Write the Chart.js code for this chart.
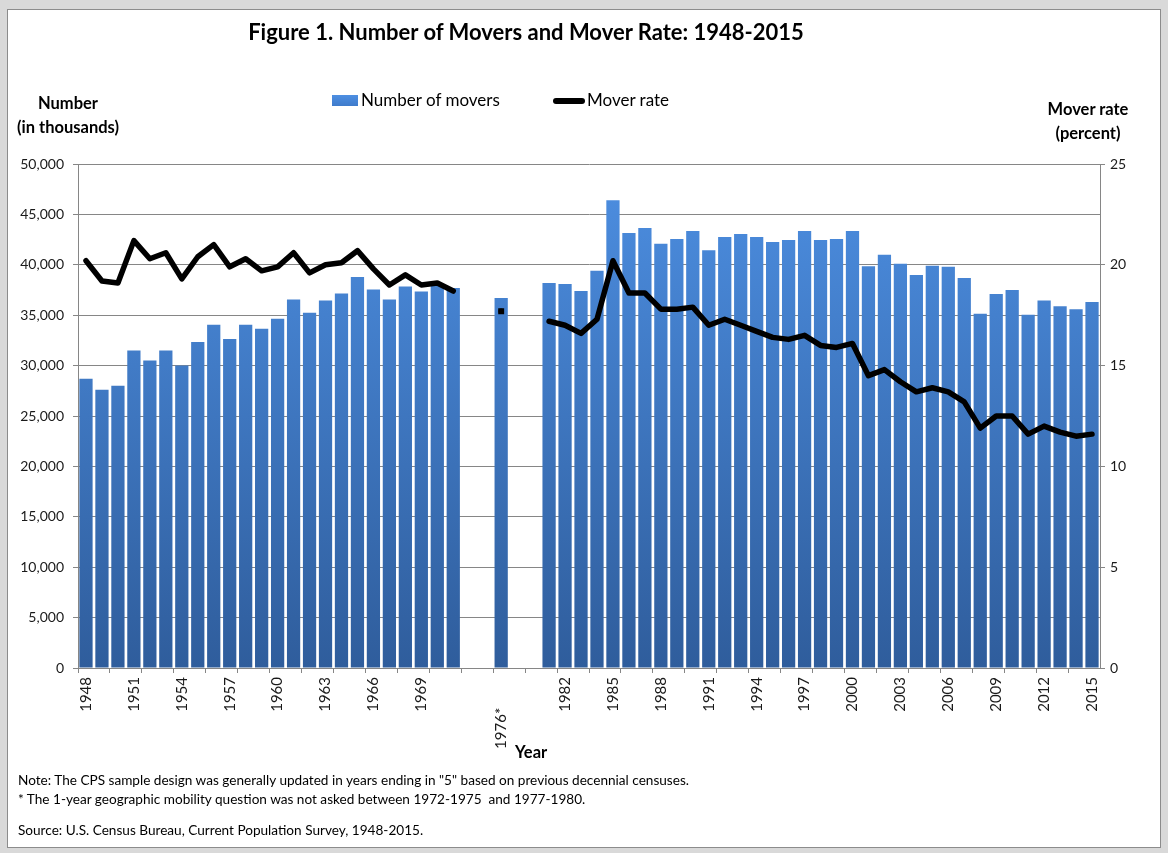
<!DOCTYPE html>
<html>
<head>
<meta charset="utf-8">
<title>Number of Movers and Mover Rate: 1948-2015</title>
<script src="https://cdn.jsdelivr.net/npm/chart.js@4.4.1/dist/chart.umd.min.js"></script>
<style>
  html, body { margin: 0; padding: 0; }
  body { width: 1168px; height: 853px; background: #d9d9d9; position: relative; overflow: hidden; font-family: Lato, "Open Sans", sans-serif; color: #000; }
  #frame { position: absolute; left: 7px; top: 9px; width: 1152px; height: 837px; background: #fff; border: 1px solid #8c8c8c; }
  #chart { position: absolute; left: 0; top: 0; }
  .txt { position: absolute; white-space: nowrap; }
  .bold { font-weight: bold; }
  #title { left: 0; width: 1052px; text-align: center; top: 19px; font-size: 22px; line-height: 26px; }
  .ytitle { font-size: 16.5px; line-height: 24px; text-align: center; width: 200px; }
  .legend-text { font-size: 17px; line-height: 20px; top: 90px; }
  .swatch { position: absolute; }
  .note { left: 18px; font-size: 13.6px; line-height: 18px; }
</style>
</head>
<body>
<div id="frame"></div>
<canvas id="chart" width="1168" height="853"></canvas>

<div id="title" class="txt bold">Figure 1. Number of Movers and Mover Rate: 1948-2015</div>

<div class="swatch" id="sw-bar" style="left:332px; top:95px; width:26px; height:11px;"></div>
<div class="txt legend-text" style="left:361px;">Number of movers</div>
<div class="swatch" id="sw-line" style="left:553px; top:98px; width:32px; height:6px; border-radius:3px;"></div>
<div class="txt legend-text" style="left:587px;">Mover rate</div>

<div class="txt bold ytitle" style="left:-32px; top:91px;">Number<br>(in thousands)</div>
<div class="txt bold ytitle" style="left:988px; top:97px;">Mover rate<br>(percent)</div>

<div class="txt bold" style="left:515px; top:742px; font-size:16.5px; line-height:20px;">Year</div>

<div class="txt note" style="top:771px;">Note: The CPS sample design was generally updated in years ending in "5" based on previous decennial censuses.</div>
<div class="txt note" style="top:790px;">* The 1-year geographic mobility question was not asked between 1972-1975&nbsp; and 1977-1980.</div>
<div class="txt note" style="top:821px;">Source: U.S. Census Bureau, Current Population Survey, 1948-2015.</div>

<script>
// categories (blank slots are the years the question wasn't asked)
const years = [
    '1948', '1949', '1950', '1951', '1952', '1953', '1954', '1955', '1956', '1957', '1958', '1959',
    '1960', '1961', '1962', '1963', '1964', '1965', '1966', '1967', '1968', '1969', '1970', '1971',
    '', '', '1976', '', '',
    '1981', '1982', '1983', '1984', '1985', '1986', '1987', '1988', '1989', '1990', '1991', '1992',
    '1993', '1994', '1995', '1996', '1997', '1998', '1999', '2000', '2001', '2002', '2003', '2004',
    '2005', '2006', '2007', '2008', '2009', '2010', '2011', '2012', '2013', '2014', '2015'
];

// number of movers, thousands
const movers = [
    28700, 27600, 28000, 31500, 30500, 31500, 30000, 32350, 34050, 32650, 34050, 33650,
    34650, 36550, 35250, 36450, 37150, 38800, 37550, 36550, 37850, 37350, 37900, 37700,
    null, null, 36700, null, null,
    38200, 38100, 37400, 39400, 46400, 43150, 43650, 42100, 42550, 43350, 41450, 42750,
    43050, 42750, 42250, 42450, 43350, 42450, 42550, 43350, 39850, 41000, 40100, 39000,
    39900, 39800, 38700, 35150, 37100, 37500, 35050, 36450, 35900, 35600, 36300
];

// mover rate, percent
const moverRate = [
    20.2, 19.2, 19.1, 21.2, 20.3, 20.6, 19.3, 20.4, 21.0, 19.9, 20.3, 19.7,
    19.9, 20.6, 19.6, 20.0, 20.1, 20.7, 19.8, 19.0, 19.5, 19.0, 19.1, 18.7,
    null, null, 17.7, null, null,
    17.2, 17.0, 16.6, 17.3, 20.2, 18.6, 18.6, 17.8, 17.8, 17.9, 17.0, 17.3,
    17.0, 16.7, 16.4, 16.3, 16.5, 16.0, 15.9, 16.1, 14.5, 14.8, 14.2, 13.7,
    13.9, 13.7, 13.2, 11.9, 12.5, 12.5, 11.6, 12.0, 11.7, 11.5, 11.6
];

// which categories get a label on the x axis
const tickYears = [
    '1948', '1951', '1954', '1957', '1960', '1963', '1966', '1969', '1976',
    '1982', '1985', '1988', '1991', '1994', '1997', '2000', '2003', '2006', '2009', '2012', '2015'
];
const starredYear = '1976';

const gridGray = '#868686';
const barTop = '#4d8fe2';
const barBottom = '#2f5d9c';
const xTickSize = 15;

document.getElementById('sw-bar').style.background = 'linear-gradient(' + barTop + ', #3f7bcb)';
document.getElementById('sw-line').style.background = '#000';

function barFill(context) {
    const area = context.chart.chartArea;
    if (!area) return '#3d78c6';
    const g = context.chart.ctx.createLinearGradient(0, area.top, 0, area.bottom);
    g.addColorStop(0, barTop);
    g.addColorStop(1, barBottom);
    return g;
}

function draw() {
    Chart.defaults.font.family = "Lato, 'Open Sans', sans-serif";
    Chart.defaults.color = '#1a1a1a';

    // push the starred label further down, like the original
    const mctx = document.createElement('canvas').getContext('2d');
    mctx.font = xTickSize + 'px Lato';
    const nbsp = Math.round(30 / mctx.measureText('\u00a0').width);
    const starLabel = '1976*' + '\u00a0'.repeat(nbsp);

    const ctx = document.getElementById('chart').getContext('2d');
    const chart = new Chart(ctx, {
        data: {
            labels: years,
            datasets: [{
                type: 'line',
                label: 'Mover rate',
                data: moverRate,
                yAxisID: 'y1',
                borderColor: '#000',
                backgroundColor: '#000',
                borderWidth: 5.5,
                borderJoinStyle: 'round',
                borderCapStyle: 'round',
                tension: 0,
                spanGaps: false,
                pointStyle: 'rect',
                pointBorderWidth: 0,
                pointRadius: (c) => years[c.dataIndex] === starredYear ? 4.2 : 0,
                pointHoverRadius: 0,
                order: 0
            }, {
                type: 'bar',
                label: 'Number of movers',
                data: movers,
                yAxisID: 'y',
                backgroundColor: barFill,
                borderWidth: 0,
                categoryPercentage: 1,
                barPercentage: 0.83,
                order: 1
            }]
        },
        options: {
            responsive: false,
            animation: false,
            devicePixelRatio: 1,
            layout: { padding: { top: 164, left: 0, right: 0, bottom: 0 } },
            plugins: {
                legend: { display: false },
                title: { display: false },
                tooltip: { enabled: false }
            },
            scales: {
                x: {
                    type: 'category',
                    offset: true,
                    afterFit: (s) => { s.height = 185; },
                    border: { display: true, color: gridGray, width: 1 },
                    grid: {
                        offset: true,
                        drawOnChartArea: false,
                        drawTicks: true,
                        tickLength: 5,
                        color: (c) => c.index % 2 === 0 ? gridGray : 'rgba(0,0,0,0)'
                    },
                    ticks: {
                        autoSkip: false,
                        minRotation: 90,
                        maxRotation: 90,
                        padding: 4,
                        font: { size: xTickSize },
                        callback: function (value, index) {
                            const lab = years[index];
                            if (lab === starredYear) return starLabel;
                            return tickYears.includes(lab) ? lab : '';
                        }
                    }
                },
                y: {
                    position: 'left',
                    min: 0,
                    max: 50000,
                    afterFit: (s) => { s.width = 78; },
                    border: { display: true, color: gridGray, width: 1 },
                    grid: { color: gridGray, lineWidth: 1, tickLength: 5 },
                    ticks: {
                        stepSize: 5000,
                        padding: 9,
                        font: { size: 14 },
                        callback: (v) => v.toLocaleString('en-US')
                    }
                },
                y1: {
                    position: 'right',
                    min: 0,
                    max: 25,
                    afterFit: (s) => { s.width = 68; },
                    border: { display: true, color: gridGray, width: 1 },
                    grid: { drawOnChartArea: false, color: gridGray, tickLength: 5 },
                    ticks: {
                        stepSize: 5,
                        padding: 5,
                        font: { size: 14 }
                    }
                }
            }
        }
    });
}

if (document.fonts && document.fonts.load) {
    Promise.all([
        document.fonts.load('14px Lato'),
        document.fonts.load('bold 16px Lato')
    ]).then(draw, draw);
} else {
    draw();
}
</script>
</body>
</html>
